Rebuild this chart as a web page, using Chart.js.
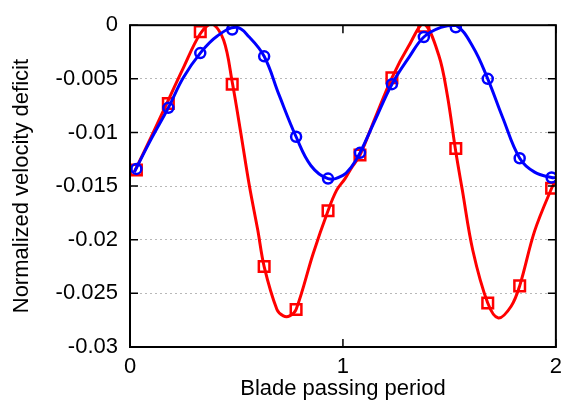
<!DOCTYPE html>
<html>
<head>
<meta charset="utf-8">
<script src="https://cdn.jsdelivr.net/npm/chart.js@4/dist/chart.umd.min.js"></script>
<style>
  body { margin: 0; background: #fff; }
  canvas { display: block; }
</style>
</head>
<body>
<canvas id="wakeChart" width="569" height="406"></canvas>
<script>

// ---- data ----
const markerX = [0.03, 0.18, 0.33, 0.48, 0.63, 0.78, 0.93, 1.08, 1.23, 1.38, 1.53, 1.68, 1.83, 1.98];
const redMarks = [-0.0135, -0.0073, -0.0006, -0.0055, -0.0225, -0.0265, -0.0173, -0.0121, -0.0049, -0.0001, -0.0115, -0.0259, -0.0243, -0.0152];
const blueMarks = [-0.0134, -0.0077, -0.0026, -0.0004, -0.0029, -0.0104, -0.0143, -0.0119, -0.0055, -0.0011, -0.0002, -0.0050, -0.0124, -0.0142];

const redLineX = [0.02, 0.10, 0.17, 0.25, 0.33, 0.385, 0.44, 0.48, 0.52, 0.56, 0.60, 0.63, 0.69, 0.72, 0.75, 0.78, 0.86, 0.93, 0.97, 1.01, 1.04, 1.08, 1.15, 1.23, 1.31, 1.38, 1.45, 1.49, 1.53, 1.56, 1.61, 1.68, 1.73, 1.79, 1.83, 1.90, 1.98, 2.00];
const redLineY = [-0.0137, -0.0104, -0.0074, -0.0040, -0.0008, 0.0001, -0.0014, -0.0053, -0.0100, -0.0149, -0.0191, -0.0225, -0.0265, -0.0271, -0.0271, -0.0265, -0.0213, -0.0173, -0.0154, -0.0143, -0.0133, -0.0121, -0.0087, -0.0049, -0.0019, 0.0001, -0.0028, -0.0065, -0.0118, -0.0153, -0.0210, -0.0259, -0.0273, -0.0262, -0.0243, -0.0192, -0.0152, -0.0145];

const blueLineX = [0.02, 0.10, 0.18, 0.25, 0.33, 0.41, 0.50, 0.56, 0.63, 0.70, 0.78, 0.85, 0.93, 1.00, 1.04, 1.08, 1.15, 1.23, 1.31, 1.38, 1.46, 1.53, 1.61, 1.68, 1.75, 1.83, 1.90, 1.98, 2.00];
const blueLineY = [-0.0137, -0.0106, -0.0077, -0.0049, -0.0026, -0.0010, -0.0002, -0.0011, -0.0029, -0.0065, -0.0104, -0.0131, -0.0143, -0.0140, -0.0132, -0.0119, -0.0089, -0.0055, -0.0030, -0.0011, -0.0002, 0.0000, -0.0020, -0.0050, -0.0086, -0.0124, -0.0137, -0.0142, -0.0142];

const xTicks = [0, 1, 2];
const yTicks = [0, -0.005, -0.01, -0.015, -0.02, -0.025, -0.03];
const yTickLabels = ["0", "-0.005", "-0.01", "-0.015", "-0.02", "-0.025", "-0.03"];

const toPoints = (xs, ys) => xs.map((x, i) => ({ x: x, y: ys[i] }));

const FONT = "'Liberation Sans', Arial, Helvetica, sans-serif";


// =================== frame + inward ticks (gnuplot look) ===================

const gnuFrame = {

    id: "gnuFrame",

    afterDraw(chart) {

        const { ctx, chartArea: a, scales } = chart;
        const len = 8;

        ctx.save();
        ctx.strokeStyle = "#000";
        ctx.lineWidth = 1.5;
        ctx.beginPath();

        scales.y.ticks.forEach((t, i) => {
            const py = scales.y.getPixelForTick(i);
            ctx.moveTo(a.left, py);  ctx.lineTo(a.left + len, py);
            ctx.moveTo(a.right, py); ctx.lineTo(a.right - len, py);
        });

        scales.x.ticks.forEach((t, i) => {
            const px = scales.x.getPixelForTick(i);
            ctx.moveTo(px, a.bottom); ctx.lineTo(px, a.bottom - len);
            ctx.moveTo(px, a.top);    ctx.lineTo(px, a.top + len);
        });

        ctx.stroke();

        ctx.lineWidth = 2;
        ctx.strokeRect(a.left, a.top, a.right - a.left, a.bottom - a.top);
        ctx.restore();

    }

};


new Chart(document.getElementById("wakeChart"), {

    type: "line",

    data: {

        datasets: [{

            label: "blue markers",
            data: toPoints(markerX, blueMarks),
            showLine: false,
            pointStyle: "circle",
            pointRadius: 5,
            pointBorderWidth: 2.5,
            pointBorderColor: "#0000ff",
            pointBackgroundColor: "rgba(0,0,0,0)",
            order: 0

        }, {

            label: "blue line",
            data: toPoints(blueLineX, blueLineY),
            borderColor: "#0000ff",
            borderWidth: 3,
            tension: 0.4,
            pointRadius: 0,
            order: 1

        }, {

            label: "red markers",
            data: toPoints(markerX, redMarks),
            showLine: false,
            pointStyle: "rect",
            pointRadius: 7.5,
            pointBorderWidth: 2.5,
            pointBorderColor: "#ff0000",
            pointBackgroundColor: "rgba(0,0,0,0)",
            order: 2

        }, {

            label: "red line",
            data: toPoints(redLineX, redLineY),
            borderColor: "#ff0000",
            borderWidth: 3,
            tension: 0.35,
            pointRadius: 0,
            order: 3

        }]
    },

    options: {

        responsive: false,
        animation: false,
        events: [],

        layout: { padding: { top: 15, right: 8, left: 0, bottom: 0 } },

        plugins: {
            legend: { display: false },
            tooltip: { enabled: false }
        },

        scales: {

            x: {
                type: "linear",
                min: 0,
                max: 2,
                afterBuildTicks: s => { s.ticks = xTicks.map(v => ({ value: v })); },
                afterFit: s => { s.height = 59; },
                grid: { display: false, drawTicks: false },
                border: { display: false },
                ticks: {
                    padding: 7,
                    color: "#000",
                    maxRotation: 0,
                    font: { family: FONT, size: 22 }
                },
                title: {
                    display: true,
                    text: "Blade passing period",
                    color: "#000",
                    padding: { top: 0, bottom: 4 },
                    font: { family: FONT, size: 22 }
                }
            },

            y: {
                min: -0.03,
                max: 0,
                afterBuildTicks: s => { s.ticks = yTicks.map(v => ({ value: v })); },
                afterFit: s => { s.width = 130; },
                grid: {
                    color: "#b8b8b8",
                    lineWidth: 1,
                    drawTicks: false
                },
                border: { display: false, dash: [2, 3] },
                ticks: {
                    padding: 12,
                    color: "#000",
                    font: { family: FONT, size: 22 },
                    callback: (v, i) => yTickLabels[i]
                },
                title: {
                    display: true,
                    text: "Normalized velocity deficit",
                    color: "#000",
                    padding: { top: 9, bottom: 0 },
                    font: { family: FONT, size: 22 }
                }
            }
        }
    },

    plugins: [gnuFrame]

});

</script>
</body>
</html>
